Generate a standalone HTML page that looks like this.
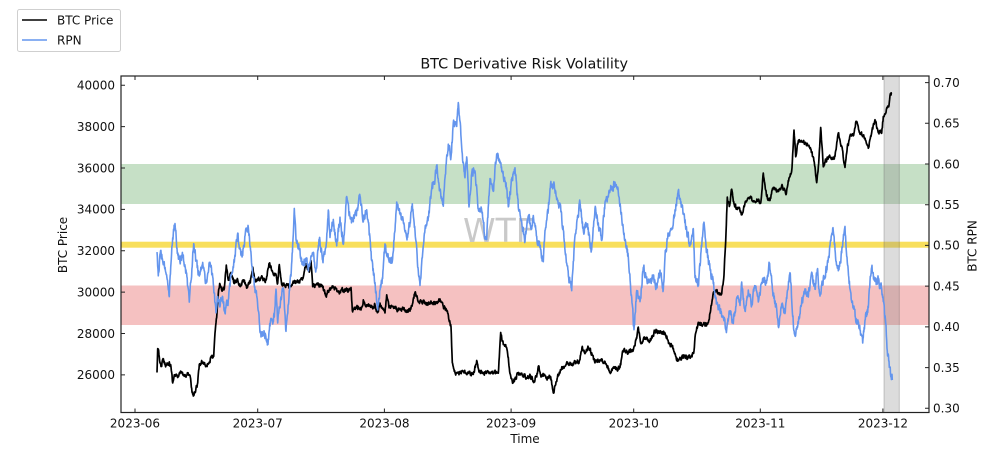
<!DOCTYPE html>
<html><head><meta charset="utf-8"><style>
html,body{margin:0;padding:0;background:#fff;}
svg{display:block;font-family:"DejaVu Sans","Liberation Sans",sans-serif;}
</style></head><body>
<svg width="988" height="451" viewBox="0 0 988 451" xmlns="http://www.w3.org/2000/svg">
<rect width="988" height="451" fill="#fff"/>
<rect x="121" y="164" width="808" height="40" fill="#c6e0c6"/>
<rect x="121" y="285.5" width="808" height="39.5" fill="#f5c1c1"/>
<rect x="121" y="241.7" width="808" height="6" fill="#f8df5c"/>
<rect x="884" y="76" width="15.3" height="336.5" fill="rgba(128,128,128,0.28)" stroke="rgba(90,90,90,0.3)" stroke-width="1"/>
<text x="463" y="242" font-size="33" fill="#c9c9c9">WTF</text>
<polyline id="btc" fill="none" stroke="#000" stroke-width="1.7" stroke-linejoin="round" points="157,373 157.7,348 159.3,357 161,367 162.7,360 166,365 169.3,362 171,367 172.7,383 174.3,375 177.7,377 181,373 184.3,376 187.7,373 190.3,377 192,393 193.7,396 196,388 197.7,383 199.3,365 202.7,362 206,365 209.3,362 211.7,357 213.7,357 215.3,330 217,313 218.3,293 219.7,283 221.7,290 224.3,288 226.3,265 228.3,280 231,273 234.3,283 237,280 240.3,287 243.7,280 247,287 250.3,283 252.7,267 255,282 258.3,280 262.7,278 266,280 269.3,263 272.7,272 276,275 277.7,283 279.3,265 281.7,285 286,285 291,287 294.3,282 299.3,282 302.7,278 306,263 309.3,272 311,260 312.7,287 317.7,285 322.7,288 326,295 328.3,290 333.3,287 338.3,292 343.3,290 348.3,290 351,287 352.3,310 356.7,307 361.7,308 363.3,300 366.7,305 371.7,307 375,305 377.7,313 380,303 383.3,310 385,313 386.7,295 389,308 393.3,307 398.3,310 403.3,309 408.3,312 411.7,307 415,292 417.7,300 421.7,302 426.7,303 431.7,303 436.7,303 440,299 443.3,306 446.7,310 449,320 451,327 452.3,363 454.3,372 458.3,373 463.3,372 468.3,373 473.3,375 476.7,360 479,372 483.3,373 488.3,372 493.3,373 498.3,373 500.7,333 503.3,345 506.7,348 508.3,357 510,373 513.3,383 516.7,375 521.7,373 526.7,377 531.7,377 533.3,380 536.7,377 538.3,367 541.7,376 546.7,377 550.7,377 553.3,393 556,382 559.3,372 563.3,367 567.3,362 571.7,364 576.7,362 580,360 582,347 585,353 588.3,347 591.7,353 595,363 600,360 605,362 610,372 615,368 620,368 623.3,350 628.3,353 633.3,350 636.7,338 638.3,327 640.7,343 645,338 650,342 655,330 660,333 665,333 669.3,343 673.3,348 676.7,361 681.7,357 686.7,357 691.7,356 694,350 695.7,333 698.3,323 703.3,325 708.3,323 710.7,310 713.3,293 717.3,292 721.7,294 724,275 726,233 727.3,197 729.3,207 731.7,190 734,203 737.3,210 738.3,208 741.7,215 745,203 750,197 753.3,202 758.3,200 760.7,203 763.3,173 766.7,197 770,200 773.3,187 778.3,192 781.7,185 786,194 788.3,180 791.7,170 794,130 795.7,157 798.3,140 803.3,143 808.3,145 811.7,152 815,167 816.7,183 818.7,163 820.7,127 823.3,167 827.3,157 831.7,158 835,157 838.3,133 841.7,147 845,167 847.3,147 850.7,135 854,133 856,122 859.3,132 863.3,135 868.3,148 871.7,133 875,120 878.3,132 881.7,133 883.3,117 886.7,108 888.7,107 890,95 891.7,93"/>
<polyline id="rpn" fill="none" stroke="#6495ED" stroke-width="1.6" stroke-linejoin="round" points="157,252 158.3,277 160.3,253 162.7,260 166,273 169.3,297 171,263 172.7,237 175,223 177,247 179.3,260 182.7,257 186,270 189.3,303 191,280 193.7,243 196,260 199.3,277 202.7,263 206,283 209.3,263 212.7,277 216,313 217.7,297 219.3,303 222.7,297 224.3,310 227.7,303 231,277 234.3,263 237.7,233 239.3,250 242.7,257 246,230 248.3,227 250.3,247 252.7,277 256,293 259.3,323 261,337 264.3,333 267.7,343 270.3,323 274.3,317 276,290 277.7,323 281,297 283.7,290 286,330 289.3,290 291,277 292.7,243 294.3,208 296,240 299.3,250 302.7,263 306,260 309.3,267 312.7,253 316,270 319.3,240 322.7,260 326,247 328.3,210 330,237 333.3,220 336.7,247 340,217 343.3,243 346.7,197 350,217 353.3,223 356.7,210 360,197 363.3,220 366.7,210 368.3,223 371.7,260 375,283 377.7,310 380,290 382.3,277 385,243 388.3,257 391.7,263 395,230 396.7,203 400,213 403.3,223 406.7,237 410,223 412.3,203 415,230 418.3,270 420,287 421.7,263 425,230 428.3,217 431.7,190 435,180 436.7,167 440,190 443.3,207 445,177 448.3,143 451,157 453.3,123 456.7,127 458.3,102 460,120 462.3,153 465,177 466.7,157 469,207 471.7,173 475,170 478.3,207 481.7,210 485,237 486.7,240 490,177 493.3,190 496.7,153 500,160 503.3,177 506.7,187 508.3,207 511.7,180 515,167 518.3,207 521.7,223 525,240 528.3,217 531.7,230 533.3,215 536.7,237 540,247 543.3,263 545,230 548.3,210 550,187 553.3,183 556.7,200 560,207 563.3,230 566.7,263 569.3,280 571.7,290 573.3,260 576.7,223 580,203 583.3,230 586.7,223 590,243 591.7,250 595,207 598.3,223 601.7,240 605,203 608.3,197 611.7,187 615,182 618.3,193 621.7,217 625,240 628.3,257 631.7,297 634,330 636.7,290 640,303 643.3,267 646.7,277 650,283 653.3,277 656.7,287 660,270 663.3,290 665,257 668.3,233 671.7,230 675,210 678.3,190 680.7,203 683.3,213 686.7,230 690,247 693.3,230 695,277 698.3,283 701.7,247 704,223 706.7,250 710,270 713.3,283 716.7,303 720,310 723.3,317 726.7,330 730,310 733.3,323 736.7,297 740,307 741.7,283 745,310 748.3,290 751.7,303 755,287 758.3,303 761.7,283 766.7,280 769.3,263 773.3,293 776.7,310 778.3,327 781.7,303 785,313 788.3,287 790,272 793.3,323 795,337 798.3,323 801.7,303 805,290 808.3,297 811.7,273 815,290 817.3,270 820,297 823.3,277 826.7,270 830,247 832.7,228 835,250 838.3,270 841.7,253 845,227 846.7,257 850,290 853.3,307 856.7,320 860,330 862.7,343 865,320 868.3,307 870,280 871.7,268 875,283 878.3,280 881.7,290 883.3,303 885.7,323 887.3,350 889.3,367 891.7,377 892.3,380"/>
<rect x="121" y="76" width="808" height="336.5" fill="none" stroke="#222" stroke-width="1.2"/>
<g stroke="#222" stroke-width="1">
<path d="M135,412.5v-4M257.7,412.5v-4M384.4,412.5v-4M511.1,412.5v-4M633.7,412.5v-4M760.3,412.5v-4M882.9,412.5v-4"/>
<path d="M135,76v4M257.7,76v4M384.4,76v4M511.1,76v4M633.7,76v4M760.3,76v4M882.9,76v4"/>
<path d="M121,85.2h4M121,126.6h4M121,168h4M121,209.4h4M121,250.7h4M121,292.1h4M121,333.5h4M121,374.9h4"/>
<path d="M929,82.6h-4M929,123.3h-4M929,164h-4M929,204.7h-4M929,245.4h-4M929,286.1h-4M929,326.9h-4M929,367.6h-4M929,408.3h-4"/>
</g>
<g font-size="12" fill="#111">
<g text-anchor="end">
<text x="115" y="89.5">40000</text>
<text x="115" y="130.9">38000</text>
<text x="115" y="172.3">36000</text>
<text x="115" y="213.7">34000</text>
<text x="115" y="255">32000</text>
<text x="115" y="296.4">30000</text>
<text x="115" y="337.8">28000</text>
<text x="115" y="379.2">26000</text>
</g>
<g text-anchor="start">
<text x="933" y="86.9">0.70</text>
<text x="933" y="127.6">0.65</text>
<text x="933" y="168.3">0.60</text>
<text x="933" y="209">0.55</text>
<text x="933" y="249.7">0.50</text>
<text x="933" y="290.4">0.45</text>
<text x="933" y="331.2">0.40</text>
<text x="933" y="371.9">0.35</text>
<text x="933" y="412.6">0.30</text>
</g>
<g text-anchor="middle">
<text x="135" y="427.5">2023-06</text>
<text x="257.7" y="427.5">2023-07</text>
<text x="384.4" y="427.5">2023-08</text>
<text x="511.1" y="427.5">2023-09</text>
<text x="633.7" y="427.5">2023-10</text>
<text x="760.3" y="427.5">2023-11</text>
<text x="882.9" y="427.5">2023-12</text>
<text x="525" y="443">Time</text>
<text transform="translate(67,245) rotate(-90)">BTC Price</text>
<text transform="translate(976.5,246) rotate(-90)">BTC RPN</text>
</g>
<text x="524.2" y="68.5" font-size="14.4" text-anchor="middle">BTC Derivative Risk Volatility</text>
</g>
<rect x="17.5" y="9.5" width="103" height="42" rx="2" fill="#fff" stroke="#cfcfcf" stroke-width="1"/>
<line x1="22" y1="20" x2="47" y2="20" stroke="#000" stroke-width="1.6"/>
<line x1="22" y1="40" x2="47" y2="40" stroke="#6495ED" stroke-width="1.6"/>
<text x="57" y="24.5" font-size="12" fill="#111">BTC Price</text>
<text x="57" y="44.5" font-size="12" fill="#111">RPN</text>
</svg>
<script>
(function(){
  function rough(id, step, amp, seed){
    var pl=document.getElementById(id);
    if(!pl) return;
    var pts=pl.getAttribute('points').trim().split(/\s+/).map(function(p){return p.split(',').map(Number);});
    var s=seed;
    function rnd(){ s=(s*16807)%2147483647; return s/2147483647; }
    var out=[], n=0;
    for(var i=0;i<pts.length-1;i++){
      var x0=pts[i][0],y0=pts[i][1],x1=pts[i+1][0],y1=pts[i+1][1];
      var dx=x1-x0, k=Math.max(1,Math.round(Math.abs(dx)/step));
      for(var j=0;j<k;j++){
        var t=j/k;
        n=n*0.45+(rnd()-0.5)*amp;
        out.push((x0+dx*t).toFixed(2)+','+(y0+(y1-y0)*t+(j===0?n*0.3:n)).toFixed(2));
      }
    }
    var last=pts[pts.length-1];
    out.push(last[0]+','+last[1]);
    pl.setAttribute('points',out.join(' '));
  }
  rough('btc',0.35,4.0,12345);
  rough('rpn',0.3,8.0,67891);
})();
</script>
</body></html>
